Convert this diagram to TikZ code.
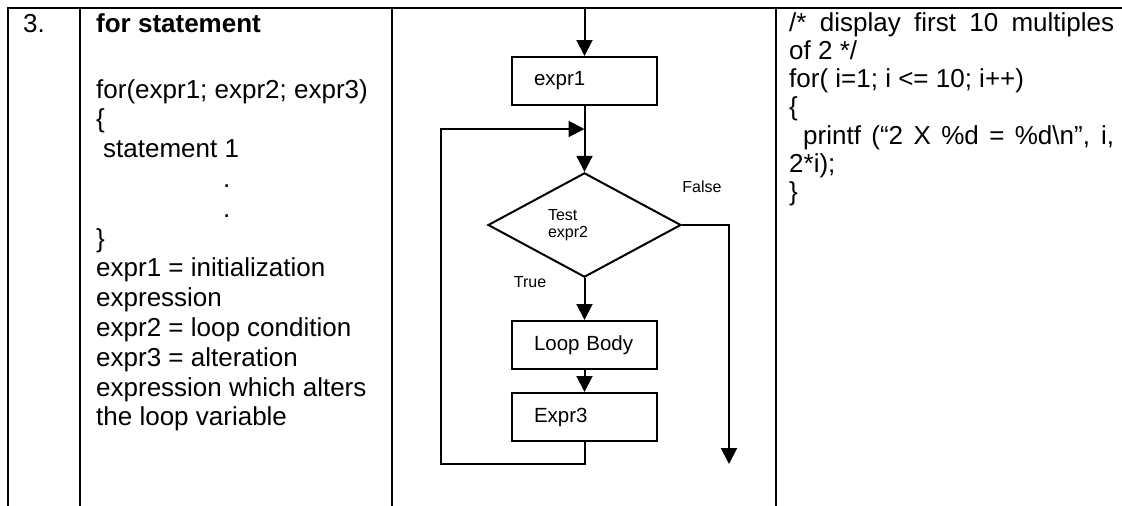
\documentclass[tikz,border=0pt]{standalone}
\usepackage{fontspec}
\setmainfont{Liberation Sans}
\usetikzlibrary{shapes.geometric, positioning, arrows.meta}

\begin{document}
\begin{tikzpicture}[x=1pt, y=-1pt,
    rule/.style={line width=2.4pt},
    celltext/.style={anchor=base west, inner sep=0pt, font=\fontsize{26}{30}\selectfont},
    flowbox/.style={draw, line width=2pt, rectangle, minimum width=145pt, minimum height=48pt,
        text width=101pt, inner xsep=22pt, align=left, font=\fontsize{20.5}{24}\selectfont},
    decision/.style={draw, line width=2pt, diamond, minimum width=193pt, minimum height=96pt,
        inner sep=0pt, text width=73pt, align=left, font=\fontsize{16}{17}\selectfont},
    small/.style={inner sep=0pt, font=\fontsize{16}{18}\selectfont},
    flow/.style={line width=2pt, -{Triangle[length=16pt, width=16pt]}}]
    \useasboundingbox (0,0) rectangle (1122,506);

    % Table rules
    \draw[rule] (8,506) -- (8,8) -- (1122,8);
    \foreach \x in {80, 392, 776}
        \draw[rule] (\x,8) -- (\x,506);

    % Number and syntax column
    \node[celltext] (num) at (23,32) {3.};
    \node[celltext, font=\fontsize{26}{30}\selectfont\bfseries] (title) at (96,32) {for statement};
    \foreach \i/\x/\txt in {0/96/for(expr1; expr2; expr3), 1/96/\{, 2/103/statement 1, 3/223/., 4/223/.,
        5/96/\}, 6/96/expr1 = initialization, 7/96/expression, 8/96/expr2 = loop condition,
        9/96/expr3 = alteration, 10/96/expression which alters, 11/96/the loop variable} {
        \node[celltext] (syntax\i) at (\x, 98+\i*29.8) {\txt};
    }

    % Flowchart
    \coordinate (start) at (584.5,8);
    \node[flowbox] (init) at (584.5,81) {expr1};
    \node[decision] (test) at (584.5,225) {Test\\expr2};
    \node[flowbox] (body) at (584.5,345) {Loop Body};
    \node[flowbox] (alter) at (584.5,417) {Expr3};
    \coordinate (join) at (584.5,129);
    \coordinate (back) at (441,464);
    \coordinate (exit) at (729,464);

    \draw[flow] (start) -- (init);
    \draw[flow] (init) -- (test);
    \draw[flow] (test) -- (body);
    \draw[flow] (body) -- (alter);
    \draw[flow] (alter.south) |- (back) |- (join);
    \draw[flow] (test.east) -| (exit);

    \node[small] (falselbl) at (702,187) {False};
    \node[small] (truelbl) at (530,282) {True};

    % Example column (wrapped lines are justified)
    \node[celltext] (code0) at (789,31) {\makebox[325pt][s]{/* display first 10 multiples}};
    \node[celltext] (code1) at (789,59.3) {of 2 */};
    \node[celltext] (code2) at (789,87.6) {for( i=1; i <= 10; i++)};
    \node[celltext] (code3) at (789,115.9) {\{};
    \node[celltext] (code4) at (803,144.2) {\makebox[311pt][s]{printf (“2 X \%d = \%d\textbackslash n”, i,}};
    \node[celltext] (code5) at (789,172.5) {2*i);};
    \node[celltext] (code6) at (789,200.8) {\}};
\end{tikzpicture}
\end{document}
